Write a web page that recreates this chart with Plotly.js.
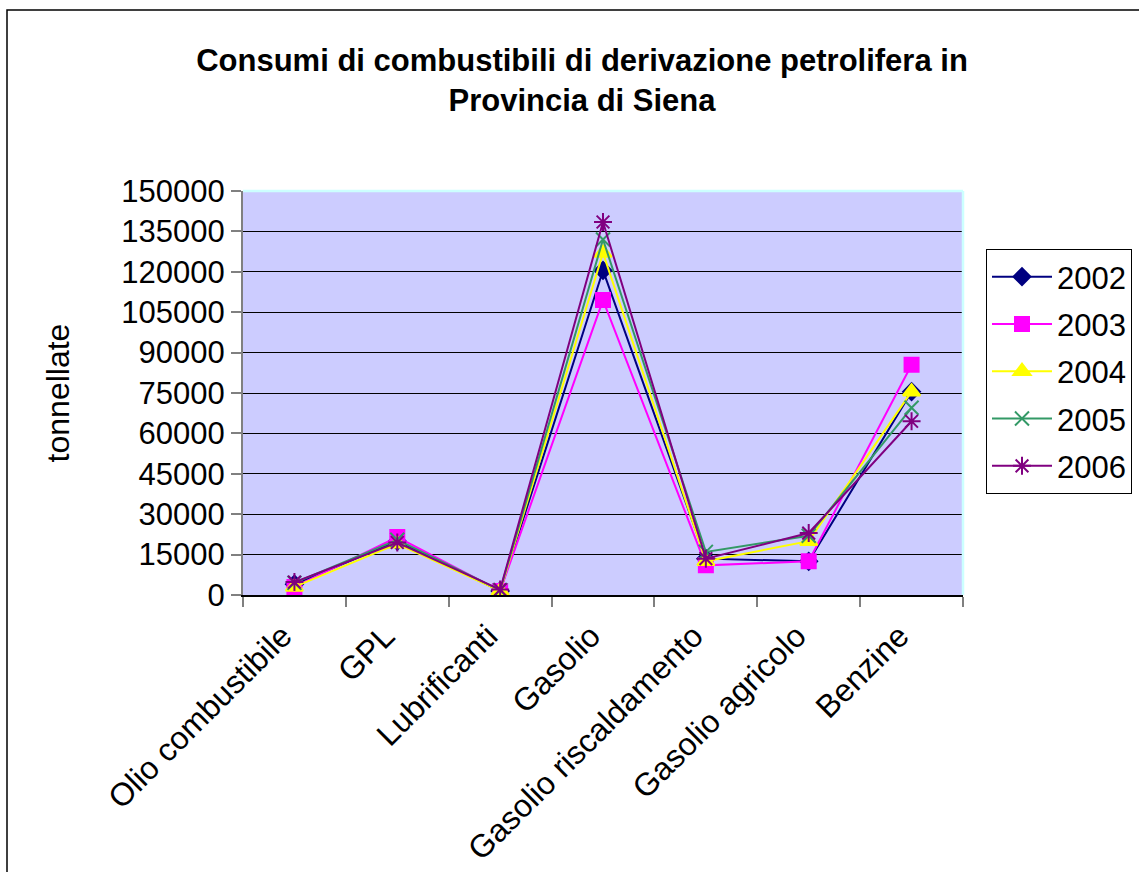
<!DOCTYPE html>
<html>
<head>
<meta charset="utf-8">
<script src="https://cdn.plot.ly/plotly-3.0.1.min.js"></script>
<style>html,body{margin:0;padding:0;background:#fff;}#chart{width:1139px;height:872px;}</style>
</head>
<body>
<div id="chart"></div>
<script>
const categories = ["Olio combustibile","GPL","Lubrificanti","Gasolio","Gasolio riscaldamento","Gasolio agricolo","Benzine"];
const years = ["2002","2003","2004","2005","2006"];
const v2002 = [4000, 20000, 1500, 120500, 13500, 12500, 75500];
const v2003 = [3000, 21500, 1500, 109500, 11000, 12500, 85500];
const v2004 = [3000, 19000, 1500, 127000, 12500, 20000, 75500];
const v2005 = [4500, 20500, 1800, 132000, 16000, 22000, 69500];
const v2006 = [4800, 19500, 2000, 138500, 13500, 23000, 64500];
const yTicks = [0,15000,30000,45000,60000,75000,90000,105000,120000,135000,150000];

const series = [v2002, v2003, v2004, v2005, v2006];
const colors = ["#000080","#FF00FF","#FFFF00","#339966","#800080"];
const symbols = ["diamond","square","triangle-up","x-thin-open","asterisk-open"];
const sizes = [13, 14, 15, 14, 15];

const traces = series.map((vals, i) => ({
  type: "scatter",
  mode: "lines+markers",
  name: years[i],
  legendgroup: years[i],
  x: categories,
  y: vals,
  line: {color: colors[i], width: 2},
  marker: {symbol: symbols[i], color: colors[i], size: sizes[i], line: {color: colors[i], width: 2}}
}));

const L = 243, R = 963, T = 191, B = 595, W = 1139, H = 872;
const px = x => (x - L) / (R - L);
const py = y => (B - y) / (B - T);

const layout = {
  width: W, height: H,
  margin: {l: L, r: W - R, t: T, b: H - B, autoexpand: false},
  paper_bgcolor: "#ffffff",
  plot_bgcolor: "#CCCCFF",
  font: {family: "Liberation Sans, Arial, sans-serif", color: "#000000", size: 30},
  title: {
    text: "<b>Consumi di combustibili di derivazione petrolifera in<br>Provincia di Siena</b>",
    font: {size: 31, family: "Liberation Sans, Arial, sans-serif", color: "#000"},
    x: 582 / W, xanchor: "center", xref: "container",
    y: 1 - 71 / H, yanchor: "middle", yref: "container"
  },
  xaxis: {
    type: "category",
    range: [-0.5, 6.5],
    tickson: "boundaries",
    ticks: "outside", ticklen: 10, tickwidth: 2, tickcolor: "#808080",
    showline: true, linecolor: "#000000", linewidth: 1.5,
    showgrid: false,
    tickangle: -45,
    tickfont: {size: 32},
    ticklabelstandoff: 8,
    ticklabelshift: -12,
    fixedrange: true
  },
  yaxis: {
    range: [0, 150000],
    tickvals: yTicks,
    ticktext: yTicks.map(String),
    ticks: "outside", ticklen: 10, tickwidth: 2, tickcolor: "#808080",
    showline: true, linecolor: "#808080", linewidth: 2,
    showgrid: true, gridcolor: "#000000", gridwidth: 1,
    zeroline: false,
    tickfont: {size: 31},
    title: {text: "tonnellate", font: {size: 32}, standoff: 42}
  },
  legend: {
    xref: "container", yref: "container",
    x: 986 / W, y: 1 - 249 / H, xanchor: "left", yanchor: "top",
    bordercolor: "#000000", borderwidth: 1,
    bgcolor: "#ffffff",
    font: {size: 31},
    tracegroupgap: 4,
    itemwidth: 60
  },
  shapes: [
    {type: "rect", xref: "paper", yref: "paper", x0: px(7), x1: px(1160), y0: py(900), y1: py(10), line: {color: "#000000", width: 1.5}, fillcolor: "rgba(0,0,0,0)", layer: "below"},
    {type: "line", xref: "paper", yref: "paper", x0: 0, x1: 1, y0: 1, y1: 1, line: {color: "#CCFFFF", width: 2.5}},
    {type: "line", xref: "paper", yref: "paper", x0: 1, x1: 1, y0: 0, y1: 1, line: {color: "#CCFFFF", width: 2.5}}
  ],
  showlegend: true
};

Plotly.newPlot("chart", traces, layout, {displayModeBar: false, staticPlot: true});
</script>
</body>
</html>
